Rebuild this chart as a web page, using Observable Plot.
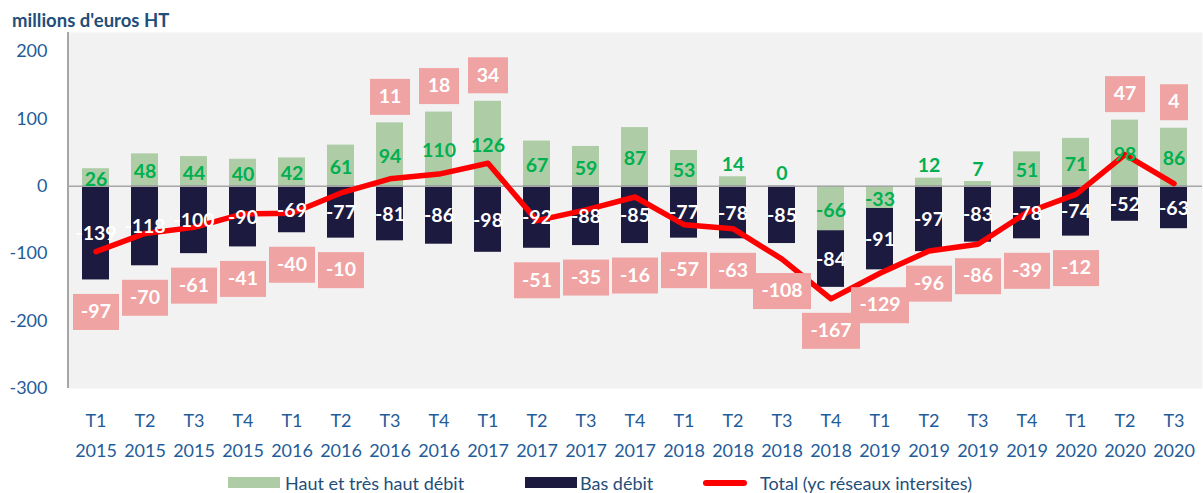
<!DOCTYPE html>
<html><head><meta charset="utf-8">
<script src="https://cdn.jsdelivr.net/npm/d3@7"></script>
<script src="https://cdn.jsdelivr.net/npm/@observablehq/plot@0.6"></script>
<style>
body{margin:0;background:#fff;font-family:Lato,sans-serif;}
#wrap{position:relative;width:1203px;height:493px;overflow:hidden;}
#chart{position:absolute;left:0;top:0;}
#title{position:absolute;left:12px;top:10px;font-weight:bold;font-size:18.5px;line-height:21px;color:#1f4e79;}
.lg{position:absolute;font-size:18px;line-height:20px;color:#1f4e79;top:473px;white-space:nowrap;}
.sw{position:absolute;}
</style></head>
<body><div id="wrap"><div id="chart"></div><div id="title">millions d'euros HT</div>
<div class="sw" style="left:228px;top:477px;width:52px;height:11px;background:#aecda6"></div>
<div class="lg" style="left:285px">Haut et très haut débit</div>
<div class="sw" style="left:525px;top:477px;width:52px;height:11px;background:#1c1a3f"></div>
<div class="lg" style="left:580px">Bas débit</div>
<div class="sw" style="left:703px;top:480px;width:44px;height:6px;border-radius:3px;background:#ff0000"></div>
<div class="lg" style="left:760px">Total (yc réseaux intersites)</div>
</div>
<script>
const quarters = ["T1 2015","T2 2015","T3 2015","T4 2015","T1 2016","T2 2016","T3 2016","T4 2016","T1 2017","T2 2017","T3 2017","T4 2017","T1 2018","T2 2018","T3 2018","T4 2018","T1 2019","T2 2019","T3 2019","T4 2019","T1 2020","T2 2020","T3 2020"];
const haut = [26,48,44,40,42,61,94,110,126,67,59,87,53,14,0,-66,-33,12,7,51,71,98,86];
const bas = [-139,-118,-100,-90,-69,-77,-81,-86,-98,-92,-88,-85,-77,-78,-85,-84,-91,-97,-83,-78,-74,-52,-63];
const total = [-97,-70,-61,-41,-40,-10,11,18,34,-51,-35,-16,-57,-63,-108,-167,-129,-96,-86,-39,-12,47,4];
const seriesNames = ["Haut et très haut débit","Bas débit"];
const yTicks = [-300,-200,-100,0,100,200];

const rows = [
  ...quarters.map((q,i)=>({q, s:seriesNames[0], v:haut[i]})),
  ...quarters.map((q,i)=>({q, s:seriesNames[1], v:bas[i]}))
];
const greenLbl = quarters.map((q,i)=>({q, v:haut[i], small: haut[i]>=0 && haut[i]<20, y: (haut[i]>=0 && haut[i]<20) ? haut[i] : haut[i]/2}));
const darkLbl = quarters.map((q,i)=>({q, v:bas[i], y: Math.min(haut[i],0) + bas[i]/2}));
const totLbl = quarters.map((q,i)=>({q, v:total[i], pos: total[i]>=0,
  y: total[i]>=0 ? Math.max(total[i], Math.max(haut[i],0)) : Math.min(total[i], Math.min(haut[i],0)+bas[i])}));

function boxRender(index, scales, values, dimensions, context, next) {
  const g = next(index, scales, values, dimensions, context);
  const ns = "http://www.w3.org/2000/svg";
  const data = this.data;
  for (const i of index) {
    const s = String(data[i].v);
    const w = s.replace("-","").length*12 + (s.startsWith("-")?6:0) + 16;
    const x = values.x[i], y = values.y[i];
    const r = document.createElementNS(ns,"rect");
    r.setAttribute("x", x - w/2); r.setAttribute("y", y - 18);
    r.setAttribute("width", w); r.setAttribute("height", 36);
    r.setAttribute("fill", "#f0a3a3");
    g.insertBefore(r, g.firstChild);
  }
  return g;
}

const leftLine = (index, {y}, values, dims) => {
  const l = document.createElementNS("http://www.w3.org/2000/svg","line");
  l.setAttribute("x1", dims.marginLeft); l.setAttribute("x2", dims.marginLeft);
  l.setAttribute("y1", dims.marginTop); l.setAttribute("y2", dims.height - dims.marginBottom);
  l.setAttribute("stroke", "#a6a6a6"); l.setAttribute("stroke-width", 2);
  return l;
};

const boldTxt = {fontWeight:"bold", fontSize:19.5, fontFamily:"Lato"};

const chart = Plot.plot({
  width:1203, height:460, marginTop:32, marginBottom:72, marginLeft:68, marginRight:1,
  style:{fontFamily:"Lato", fontSize:"18px", color:"#1f5c9a", background:"transparent"},
  x:{domain:quarters, paddingInner:0.44, paddingOuter:0.22, label:null},
  y:{domain:[-300,228], label:null},
  color:{domain:seriesNames, range:["#aecda6","#1c1a3f"]},
  marks:[
    Plot.frame({fill:"#f2f2f2", stroke:null}),
    Plot.barY(rows, {x:"q", y:"v", fill:"s"}),
    Plot.ruleY([0], {stroke:"#a6a6a6", strokeWidth:1.5}),
    leftLine,
    Plot.lineY(quarters.map((q,i)=>({q, v:total[i]})), {x:"q", y:"v", stroke:"#ff0000", strokeWidth:5.5, strokeLinejoin:"round"}),
    Plot.text(greenLbl.filter(d=>!d.small), {x:"q", y:"y", text:d=>String(d.v), fill:"#00b050", dy:2, ...boldTxt}),
    Plot.text(greenLbl.filter(d=>d.small), {x:"q", y:"y", text:d=>String(d.v), fill:"#00b050", dy:-12, ...boldTxt}),
    Plot.text(darkLbl, {x:"q", y:"y", text:d=>String(d.v), fill:"white", dy:1, ...boldTxt}),
    Plot.text(totLbl.filter(d=>d.pos), {x:"q", y:"y", text:d=>String(d.v), fill:"white", dy:-26, render:boxRender, ...boldTxt}),
    Plot.text(totLbl.filter(d=>!d.pos), {x:"q", y:"y", text:d=>String(d.v), fill:"white", dy:32, render:boxRender, ...boldTxt}),
    Plot.axisY({ticks:yTicks, tickSize:0, tickPadding:21, fontSize:18, tickFormat:d=>String(d), label:null}),
    Plot.axisX({tickSize:0, tickPadding:17, lineHeight:1.67, fontSize:18, tickFormat:d=>d.replace(" ","\n"), label:null})
  ]
});
document.getElementById("chart").appendChild(chart);
</script>
</body></html>
